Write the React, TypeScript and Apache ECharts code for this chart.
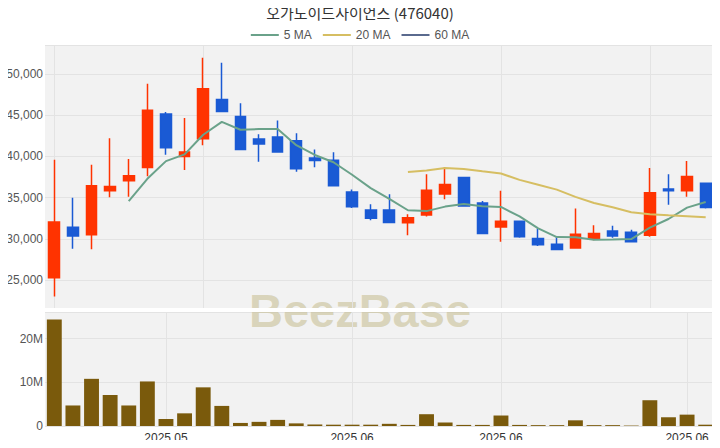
import React, { useEffect, useRef } from "react";
import * as echarts from "echarts";

const categories = [
  "04.24", "04.25", "04.28", "04.29", "04.30", "05.02", "05.07", "05.08", "05.09", "05.12",
  "05.13", "05.14", "05.15", "05.16", "05.19", "05.20", "05.21", "05.22", "05.23", "05.26",
  "05.27", "05.28", "05.29", "05.30", "06.02", "06.04", "06.05", "06.09", "06.10", "06.11",
  "06.12", "06.13", "06.16", "06.17", "06.18", "06.19",
];
const openP = [25300, 31400, 30500, 35850, 37050, 38650, 45150, 40000, 42150, 46900, 44850, 42100, 42350, 41900, 39800, 39550, 35700, 33500, 33500, 31950, 32900, 35450, 37450, 34350, 31450, 32150, 30050, 29350, 28900, 29950, 30950, 30800, 30450, 36050, 35850, 36750];
const closeP = [32050, 30350, 36450, 36350, 37650, 45600, 41050, 40550, 48200, 45450, 40850, 41500, 40550, 38500, 39500, 36450, 33900, 32500, 32000, 32550, 35900, 36600, 34000, 30650, 32150, 30250, 29300, 28700, 30550, 30650, 30350, 29650, 35600, 35850, 37550, 33800];
const highP = [39600, 35000, 39000, 42200, 39700, 48800, 45400, 44650, 51950, 51350, 46450, 42700, 44350, 42800, 40850, 40500, 36000, 34200, 35400, 33000, 37850, 38700, 37500, 34600, 35850, 32200, 31250, 30250, 33700, 31650, 31600, 31100, 38600, 37850, 39450, 36800];
const lowP = [23000, 28800, 28750, 35050, 35100, 37600, 40200, 38350, 41350, 45400, 40800, 39350, 40500, 38150, 38700, 36400, 33750, 32250, 31950, 30450, 32700, 34800, 33950, 30600, 29650, 30150, 29150, 28650, 28850, 29850, 30150, 29600, 30250, 34150, 35100, 33700];
const volume = [24400000, 4700000, 10800000, 7100000, 4700000, 10200000, 1600000, 2900000, 8850000, 4600000, 700000, 950000, 1400000, 600000, 350000, 300000, 300000, 300000, 500000, 250000, 2700000, 800000, 250000, 250000, 2400000, 250000, 200000, 200000, 1300000, 200000, 200000, 100000, 5900000, 2000000, 2600000, 300000];
const ma5 = ["-", "-", "-", "-", 34578, 37288, 39428, 40248, 42624, 44180, 43230, 43312, 43312, 41366, 40174, 39290, 37772, 36158, 34860, 33474, 33368, 33914, 34220, 33952, 33870, 32734, 31274, 30214, 30198, 29900, 29918, 29982, 31360, 32414, 33790, 34478];
const ma20 = ["-", "-", "-", "-", "-", "-", "-", "-", "-", "-", "-", "-", "-", "-", "-", "-", "-", "-", "-", 38102, 38294, 38607, 38485, 38201, 37925, 37156, 36568, 35976, 35094, 34355, 33828, 33236, 32988, 32856, 32759, 32625];
const ma60 = categories.map(() => "-");
const tickIdx = [6, 16, 24, 34];
const tickLabels = ["2025.05", "2025.06", "2025.06", "2025.06"];
const topLineIdx = [0, 8, 16, 24, 32];

const UP = "#FF3300";
const DOWN = "#1A5AD4";
const FONT = "Liberation Sans, Arial, sans-serif";
const TITLE_FONT = "Noto Sans CJK KR, Noto Sans, sans-serif";

export default function App() {
  const ref = useRef<HTMLDivElement>(null);
  useEffect(() => {
    const chart = echarts.init(ref.current!, null, { renderer: "svg" });
    const candle = categories.map((_, i) => [openP[i], closeP[i], lowP[i], highP[i]]);
    const empty = categories.map(() => "-");
    const vLine = (idx: number[]) => ({
      silent: true,
      symbol: "none",
      z: 1,
      label: { show: false },
      lineStyle: { color: "#E3E3E3", width: 1, type: "solid" },
      data: idx.map((i) => ({ xAxis: i })),
    });
    chart.setOption({
      animation: false,
      textStyle: { fontFamily: FONT },
      title: {
        text: "오가노이드사이언스 (476040)",
        left: "center",
        top: 0,
        textStyle: { fontSize: 15, fontWeight: "normal", color: "#333", fontFamily: TITLE_FONT },
      },
      legend: {
        data: ["5 MA", "20 MA", "60 MA"],
        top: 24,
        icon: "rect",
        itemWidth: 28,
        itemHeight: 2,
        itemGap: 11,
        textStyle: { fontSize: 12, color: "#555", fontFamily: FONT },
      },
      grid: [
        { left: 45, right: 5, top: 45, height: 263, show: true, backgroundColor: "#F2F2F2", borderWidth: 0 },
        { left: 45, right: 5, top: 312, height: 114, show: true, backgroundColor: "#F2F2F2", borderWidth: 0 },
      ],
      xAxis: [
        {
          type: "category",
          data: categories,
          gridIndex: 0,
          boundaryGap: true,
          axisLine: { show: false },
          axisTick: { show: false },
          axisLabel: { show: false },
          splitLine: { show: false },
        },
        {
          type: "category",
          data: categories,
          gridIndex: 1,
          boundaryGap: true,
          axisLine: { show: false },
          axisTick: { show: false },
          splitLine: { show: false },
          axisLabel: {
            interval: (i: number) => tickIdx.indexOf(i) >= 0,
            formatter: (_v: string, i: number) => {
              const k = tickIdx.indexOf(i);
              return k >= 0 ? tickLabels[k] : "";
            },
            color: "#333",
            fontSize: 12,
            margin: 6,
          },
        },
      ],
      yAxis: [
        {
          type: "value",
          gridIndex: 0,
          min: 21620,
          max: 53510,
          splitNumber: 6,
          axisLine: { show: false },
          axisTick: { show: false },
          splitLine: { show: true, lineStyle: { color: "#E3E3E3" } },
          axisLabel: {
            showMinLabel: false,
            showMaxLabel: false,
            color: "#555",
            fontSize: 12,
            margin: 2,
            formatter: (v: number) => (v % 5000 === 0 ? v.toLocaleString("en-US") : ""),
          },
        },
        {
          type: "value",
          gridIndex: 1,
          min: 0,
          max: 26100000,
          interval: 10000000,
          axisLine: { show: false },
          axisTick: { show: false },
          splitLine: { show: true, lineStyle: { color: "#E3E3E3" } },
          axisLabel: {
            showMaxLabel: false,
            color: "#555",
            fontSize: 12,
            margin: 2,
            formatter: (v: number) => (v === 0 ? "0" : v % 10000000 === 0 ? v / 1000000 + "M" : ""),
          },
        },
      ],
      graphic: [
        {
          type: "text",
          x: 360,
          y: 310,
          z: 1,
          silent: true,
          style: {
            text: "BeezBase",
            fontSize: 47,
            fontWeight: "bold",
            fontFamily: "Liberation Sans, sans-serif",
            fill: "rgba(196,186,140,0.55)",
            textAlign: "center",
            textVerticalAlign: "middle",
          },
        },
        {
          type: "rect",
          shape: { x: 45, y: 308, width: 670, height: 4 },
          z: 2,
          silent: true,
          style: { fill: "#fff" },
        },
      ],
      series: [
        {
          name: "vgrid0",
          type: "line",
          xAxisIndex: 0,
          yAxisIndex: 0,
          data: empty,
          symbol: "none",
          markLine: vLine(topLineIdx),
          z: 1,
        },
        {
          name: "vgrid1",
          type: "line",
          xAxisIndex: 1,
          yAxisIndex: 1,
          data: empty,
          symbol: "none",
          markLine: vLine(tickIdx),
          z: 1,
        },
        {
          name: "candle",
          type: "candlestick",
          xAxisIndex: 0,
          yAxisIndex: 0,
          data: candle,
          barWidth: "60%",
          itemStyle: { color: UP, color0: DOWN, borderColor: UP, borderColor0: DOWN, borderWidth: 1.5 },
          z: 8,
        },
        {
          name: "5 MA",
          type: "line",
          data: ma5,
          symbol: "none",
          lineStyle: { width: 2, color: "#6AA28A" },
          itemStyle: { color: "#6AA28A" },
          z: 9,
        },
        {
          name: "20 MA",
          type: "line",
          data: ma20,
          symbol: "none",
          lineStyle: { width: 2, color: "#D6BE62" },
          itemStyle: { color: "#D6BE62" },
          z: 9,
        },
        {
          name: "60 MA",
          type: "line",
          data: ma60,
          symbol: "none",
          lineStyle: { width: 2, color: "#5A6A8E" },
          itemStyle: { color: "#5A6A8E" },
          z: 9,
        },
        {
          name: "volume",
          type: "bar",
          xAxisIndex: 1,
          yAxisIndex: 1,
          data: volume,
          barWidth: "80%",
          itemStyle: { color: "#7A5A0C" },
          z: 8,
        },
      ],
    });
    return () => chart.dispose();
  }, []);
  return <div ref={ref} style={{ width: 720, height: 448, margin: -8 }} />;
}
